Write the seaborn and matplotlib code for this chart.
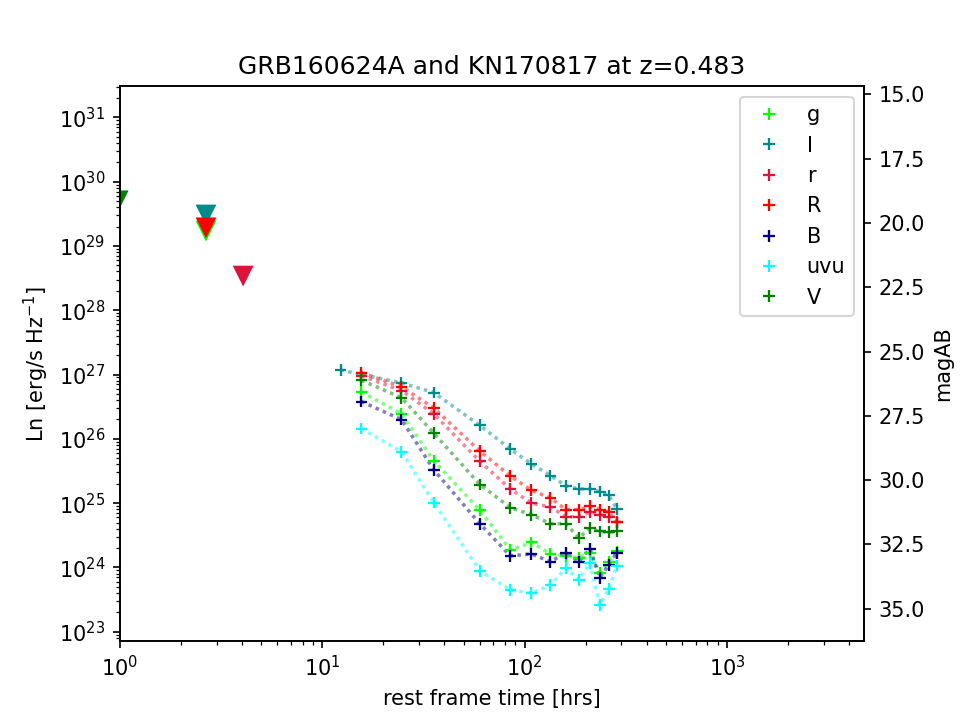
import numpy as np
import pandas as pd
import matplotlib
matplotlib.use('Agg')
import matplotlib.pyplot as plt
import seaborn as sns

nan = np.nan

# bands in legend order and their colours
bands = ['g', 'I', 'r', 'R', 'B', 'uvu', 'V']
colors = {'g': 'lime', 'I': 'darkcyan', 'r': 'crimson', 'R': 'red',
          'B': 'navy', 'uvu': 'cyan', 'V': 'green'}

# KN170817 light curve, rest frame hours, log10 Ln
t_hrs = [12.3, 15.6, 24.6, 35.5, 60, 85, 108, 134, 160, 185, 210, 235, 260, 286]
logL_g = [nan, 26.73, 26.39, 25.66, 24.89, 24.27, 24.39, 24.21, 24.18, 24.15, 24.23, 23.92, 24.09, 24.25]
logL_I = [27.07, nan, 26.87, 26.72, 26.21, 25.84, 25.61, 25.43, 25.27, 25.22, 25.22, 25.18, 25.12, 24.91]
logL_r = [nan, 26.98, 26.75, 26.39, 25.65, 25.22, 25.00, 24.94, 24.79, 24.79, 24.86, 24.82, 24.79, 24.71]
logL_R = [nan, 27.03, 26.81, 26.48, 25.81, 25.42, 25.20, 25.08, 24.90, 24.90, 24.95, 24.90, 24.86, 24.70]
logL_B = [nan, 26.58, 26.30, 25.52, 24.68, 24.18, 24.21, 24.09, 24.23, 24.09, 24.29, 23.84, 24.04, 24.23]
logL_uvu = [nan, 26.16, 25.80, 25.01, 23.95, 23.65, 23.60, 23.73, 23.99, 23.81, 24.07, 23.42, 23.66, 24.03]
logL_V = [nan, 26.91, 26.64, 26.09, 25.29, 24.93, 24.82, 24.68, 24.68, 24.46, 24.61, 24.56, 24.55, 24.56]

# GRB160624A upper limits
tri_band = ['V', 'I', 'g', 'R', 'r']
tri_t = [0.98, 2.66, 2.66, 2.66, 4.06]
tri_logL = [29.70, 29.48, 29.23, 29.28, 28.53]

# magAB <-> log Ln at z=0.483
mag_ref, logL_ref = 15.0, 31.358
ylo, yhi = 22.86, 31.48

curves = {'g': logL_g, 'I': logL_I, 'r': logL_r, 'R': logL_R,
          'B': logL_B, 'uvu': logL_uvu, 'V': logL_V}
rows = []
for b in bands:
    for t, l in zip(t_hrs, curves[b]):
        if not np.isnan(l):
            rows.append((b, t, 10**l))
df = pd.DataFrame(rows, columns=['band', 't', 'L'])
lim = pd.DataFrame({'band': tri_band, 't': tri_t, 'L': 10**np.array(tri_logL)})

fig, ax = plt.subplots(figsize=(6.4, 4.8), dpi=150)
ax.set_xscale('log')
ax.set_yscale('log')

sns.scatterplot(data=lim, x='t', y='L', hue='band', palette=colors, marker='v',
                s=100, linewidth=0, legend=False, ax=ax, zorder=3)
sns.lineplot(data=df, x='t', y='L', hue='band', hue_order=bands, palette=colors,
             sort=False, estimator=None, linestyle=(0, (1.0, 1.2)), linewidth=1.7,
             alpha=0.5, legend=False, ax=ax)
sns.scatterplot(data=df, x='t', y='L', hue='band', hue_order=bands, palette=colors,
                marker='+', s=32, linewidth=1.1, ax=ax, zorder=3)

leg = ax.get_legend()
handles = leg.legend_handles
labels = [t.get_text() for t in leg.texts]
ax.legend(handles, labels, loc='upper right')

ax.set_xlim(1, 4750)
ax.set_ylim(10**ylo, 10**yhi)
ax.set_xlabel('rest frame time [hrs]')
ax.set_ylabel('Ln [erg/s Hz$^{-1}$]')
ax.set_title('GRB160624A and KN170817 at z=0.483')

ax2 = ax.twinx()
ax2.set_ylim(mag_ref + (logL_ref - ylo) * 2.5, mag_ref + (logL_ref - yhi) * 2.5)
ax2.set_yticks(np.arange(15, 35.1, 2.5))
ax2.set_yticklabels(['%.1f' % m for m in np.arange(15, 35.1, 2.5)])
ax2.set_ylabel('magAB')

fig.savefig('out.png', dpi=150)
